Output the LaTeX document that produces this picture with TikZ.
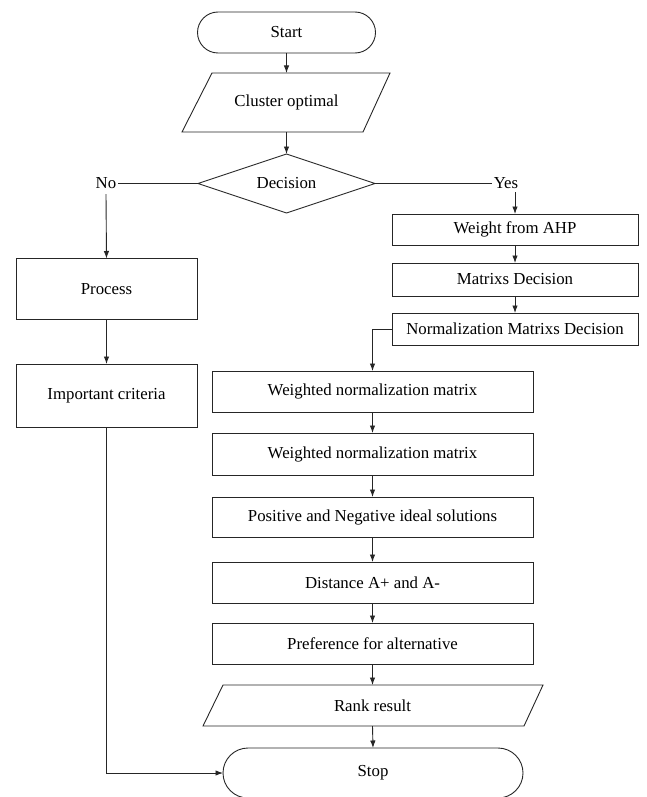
\documentclass[tikz,border=0pt]{standalone}
\usepackage{fontspec}
\setmainfont{Liberation Serif}
\usetikzlibrary{shapes.geometric,arrows.meta}
\begin{document}
\begin{tikzpicture}[x=1pt,y=-1pt,
  every node/.style={font=\rmfamily\fontsize{16.8}{19}\selectfont, outer sep=0pt, text=black},
  line/.style={line width=0.9pt, draw=black!85},
  arr/.style={line, -{Latex[length=7.5pt,width=5.5pt]}},
  procbox/.style={line, draw, rectangle, inner sep=2pt},
  lbl/.style={inner sep=2pt}
]
\useasboundingbox (0,0) rectangle (647,797);
\clip (0,0) rectangle (647,797);

% top part
\node[procbox, rounded corners=20.5pt, minimum width=178pt, minimum height=41pt] (start) at (286.5,32.5) {Start};
\node[inner sep=0pt, minimum width=150pt, minimum height=59pt] (cluster) at (286.5,102.5) {Cluster optimal};
\draw[line] (212,73) -- (390,73) -- (363,132) -- (182,132) -- cycle;
\node[line, draw, diamond, aspect=3, inner sep=0pt, minimum width=177pt, minimum height=59pt] (decision) at (286.5,183.5) {Decision};

\node[lbl] (no) at (106,183.5) {No};
\node[lbl] (yes) at (506,183.5) {Yes};

% left branch
\node[procbox, minimum width=181pt, minimum height=61pt] (process) at (106.5,289) {Process};
\node[procbox, minimum width=181pt, minimum height=63pt] (important) at (106.5,395.5) {Important criteria};

% right branch
\node[procbox, minimum width=246pt, minimum height=31pt] (ahp) at (515,229.5) {Weight from AHP};
\node[procbox, minimum width=246pt, minimum height=33pt] (mdec) at (515,279.5) {Matrixs Decision};
\node[procbox, minimum width=246pt, minimum height=32pt] (norm) at (515,329) {Normalization Matrixs Decision};

% lower column
\node[procbox, minimum width=321pt, minimum height=41pt] (w1) at (372.5,391.5) {Weighted normalization matrix};
\node[procbox, minimum width=321pt, minimum height=42pt] (w2) at (372.5,454) {Weighted normalization matrix};
\node[procbox, minimum width=321pt, minimum height=40pt] (pos) at (372.5,517) {Positive and Negative ideal solutions};
\node[procbox, minimum width=321pt, minimum height=41pt] (dist) at (372.5,582.5) {Distance A+ and A-};
\node[procbox, minimum width=321pt, minimum height=41pt] (pref) at (372.5,643.5) {Preference for alternative};
\node[inner sep=0pt, minimum width=300pt, minimum height=41pt] (rank) at (372.5,705.5) {Rank result};
\draw[line] (223,685) -- (543,685) -- (524,726) -- (203,726) -- cycle;
\node[procbox, rounded corners=25pt, minimum width=300pt, minimum height=50pt] (stop) at (373,773) {Stop};

% connectors
\draw[arr] (start.south) -- (cluster.north);
\draw[arr] (cluster.south) -- (decision.north);
\draw[line] (decision.west) -- (no.east);
\draw[line] (decision.east) -- (yes.west);
\draw[arr] ([yshift=-3pt]no.south) -- (process.north);
\draw[arr] (process.south) -- (important.north);
\draw[arr] (important.south) |- (stop.west);
\draw[arr] ([yshift=-1pt]yes.south -| ahp.north) -- (ahp.north);
\draw[arr] (ahp.south) -- (mdec.north);
\draw[arr] (mdec.south) -- (norm.north);
\draw[arr] (norm.west) -| (w1.north);
\draw[arr] (w1.south) -- (w2.north);
\draw[arr] (w2.south) -- (pos.north);
\draw[arr] (pos.south) -- (dist.north);
\draw[arr] (dist.south) -- (pref.north);
\draw[arr] (pref.south) -- (rank.north);
\draw[arr] (rank.south) -- (stop.north);
\end{tikzpicture}
\end{document}
